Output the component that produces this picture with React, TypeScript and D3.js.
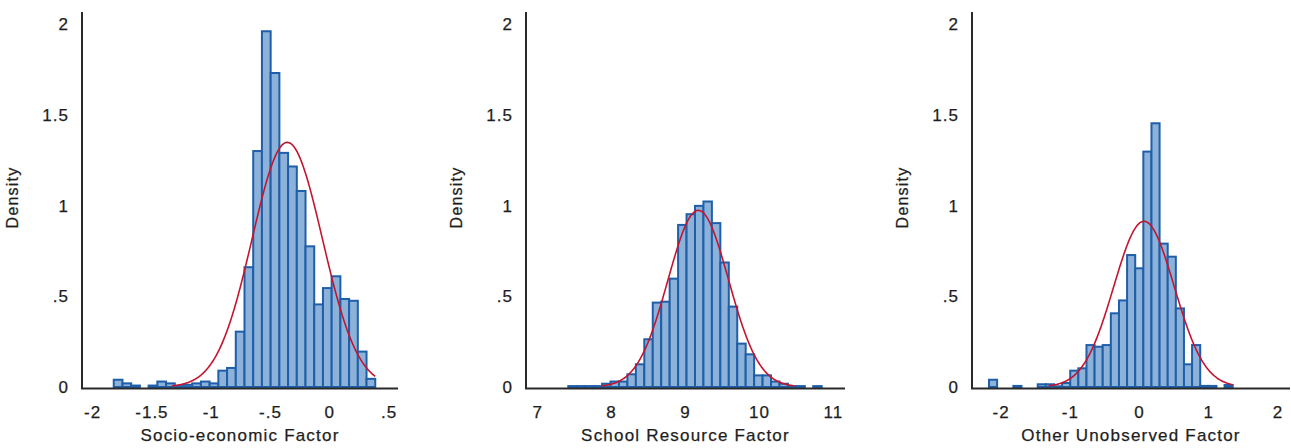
import React from 'react';
import * as d3 from 'd3';

// ---------- Data ----------
// Panel 1: Socio-economic Factor
const socioDensity = [0.04, 0.02, 0.008, 0, 0.008, 0.03, 0.02, 0.005, 0.012, 0.02, 0.03, 0.02, 0.09, 0.105, 0.305, 0.66, 1.30, 1.96, 1.73, 1.29, 1.215, 1.08, 0.775, 0.455, 0.545, 0.61, 0.485, 0.475, 0.195, 0.045];
const socioBinStart = -1.822;
const socioBinWidth = 0.0735;
const socioMean = -0.359;
const socioSD = 0.296;
const socioTicks = [-2, -1.5, -1, -0.5, 0, 0.5];
const socioTickLabels = ['-2', '-1.5', '-1', '-.5', '0', '.5'];

// Panel 2: School Resource Factor
const schoolDensity = [0.005, 0.005, 0.005, 0.005, 0.018, 0.03, 0.03, 0.07, 0.125, 0.263, 0.465, 0.47, 0.597, 0.893, 0.952, 0.998, 1.022, 0.903, 0.686, 0.443, 0.239, 0.18, 0.064, 0.064, 0.03, 0.018, 0.005, 0.005, 0, 0.005];
const schoolBinStart = 7.414;
const schoolBinWidth = 0.1143;
const schoolMean = 9.173;
const schoolSD = 0.41;
const schoolTicks = [7, 8, 9, 10, 11];
const schoolTickLabels = ['7', '8', '9', '10', '11'];

// Panel 3: Other Unobserved Factor
const otherDensity = [0.04, 0, 0, 0.006, 0, 0, 0.015, 0.015, 0.004, 0.022, 0.09, 0.103, 0.231, 0.222, 0.231, 0.406, 0.477, 0.727, 0.654, 1.297, 1.453, 0.79, 0.718, 0.433, 0.125, 0.231, 0.006, 0.006, 0, 0.011];
const otherBinStart = -2.175;
const otherBinWidth = 0.1174;
const otherMean = 0.065;
const otherSD = 0.437;
const otherTicks = [-2, -1, 0, 1, 2];
const otherTickLabels = ['-2', '-1', '0', '1', '2'];

const densityTicks = [0, 0.5, 1, 1.5, 2];
const densityTickLabels = ['0', '.5', '1', '1.5', '2'];
const yTitle = 'Density';

// ---------- Layout ----------
const W = 1291;
const H = 448;
const Y0 = 387;
const Y2 = 24;
const AXIS_TOP = 12;

const FONT = '"Liberation Sans", Arial, "Helvetica", sans-serif';
const TEXT_COLOR = '#1e1e1e';
const BAR_FILL = '#8db2da';
const BAR_STROKE = '#1f5ea9';
const CURVE_COLOR = '#c4152f';
const AXIS_COLOR = '#2a2a2a';
const CURVE_VISIBLE = 0.006;

type Panel = {
  title: string;
  density: number[];
  binStart: number;
  binWidth: number;
  mean: number;
  sd: number;
  ticks: number[];
  tickLabels: string[];
  domain: [number, number];
  range: [number, number];
};

const panels: Panel[] = [
  {
    title: 'Socio-economic Factor',
    density: socioDensity,
    binStart: socioBinStart,
    binWidth: socioBinWidth,
    mean: socioMean,
    sd: socioSD,
    ticks: socioTicks,
    tickLabels: socioTickLabels,
    domain: [-2.0897, 0.5748],
    range: [82, 398],
  },
  {
    title: 'School Resource Factor',
    density: schoolDensity,
    binStart: schoolBinStart,
    binWidth: schoolBinWidth,
    mean: schoolMean,
    sd: schoolSD,
    ticks: schoolTicks,
    tickLabels: schoolTickLabels,
    domain: [6.842, 11.158],
    range: [526, 845],
  },
  {
    title: 'Other Unobserved Factor',
    density: otherDensity,
    binStart: otherBinStart,
    binWidth: otherBinWidth,
    mean: otherMean,
    sd: otherSD,
    ticks: otherTicks,
    tickLabels: otherTickLabels,
    domain: [-2.4205, 2.175],
    range: [972, 1290],
  },
];

const y = d3.scaleLinear().domain([0, 2]).range([Y0, Y2]);

function normalPdf(v: number, m: number, s: number) {
  const z = (v - m) / s;
  return Math.exp(-0.5 * z * z) / (s * Math.sqrt(2 * Math.PI));
}

const textProps = {
  fontFamily: FONT,
  fill: TEXT_COLOR,
  stroke: TEXT_COLOR,
  strokeWidth: 0.25,
};

function PanelView({ p }: { p: Panel }) {
  const x = d3.scaleLinear().domain(p.domain).range(p.range);
  const left = p.range[0];
  const right = p.range[1];
  const binEnd = p.binStart + p.binWidth * p.density.length;
  const curvePts = d3
    .range(0, 401)
    .map((i) => {
      const v = p.binStart + ((binEnd - p.binStart) * i) / 400;
      return [v, normalPdf(v, p.mean, p.sd)] as [number, number];
    })
    .filter((d) => d[1] >= CURVE_VISIBLE);
  const line = d3
    .line<[number, number]>()
    .x((d) => x(d[0]))
    .y((d) => y(d[1]));

  return (
    <g>
      {p.density.map((d, i) => {
        if (d <= 0) return null;
        const x0 = x(p.binStart + i * p.binWidth);
        const x1 = x(p.binStart + (i + 1) * p.binWidth);
        return (
          <rect
            key={i}
            x={x0}
            y={y(d)}
            width={x1 - x0}
            height={Y0 - y(d)}
            fill={BAR_FILL}
            stroke={BAR_STROKE}
            strokeWidth={2}
          />
        );
      })}
      <path d={line(curvePts) || ''} fill="none" stroke={CURVE_COLOR} strokeWidth={1.6} />
      {/* axes */}
      <line x1={left} x2={left} y1={AXIS_TOP} y2={Y0 + 1.5} stroke={AXIS_COLOR} strokeWidth={2} />
      <line x1={left - 1} x2={right} y1={Y0 + 1.5} y2={Y0 + 1.5} stroke={AXIS_COLOR} strokeWidth={2} />
      {densityTicks.map((t, i) => (
        <text
          key={'y' + i}
          x={left - 13}
          y={y(t)}
          dy="0.36em"
          textAnchor="end"
          fontSize={17}
          letterSpacing={1}
          {...textProps}
        >
          {densityTickLabels[i]}
        </text>
      ))}
      {p.ticks.map((t, i) => (
        <text
          key={'x' + i}
          x={x(t)}
          y={418}
          textAnchor="middle"
          fontSize={17}
          letterSpacing={1}
          {...textProps}
        >
          {p.tickLabels[i]}
        </text>
      ))}
      <text
        x={(left + right) / 2}
        y={441}
        textAnchor="middle"
        fontSize={17}
        letterSpacing={1.2}
        {...textProps}
      >
        {p.title}
      </text>
      <text
        transform={`translate(${left - 64},${(AXIS_TOP + Y0) / 2 - 2}) rotate(-90)`}
        textAnchor="middle"
        fontSize={16}
        letterSpacing={1.2}
        {...textProps}
      >
        {yTitle}
      </text>
    </g>
  );
}

export default function App() {
  return (
    <svg
      width={W}
      height={H}
      viewBox={`0 0 ${W} ${H}`}
      style={{ position: 'absolute', left: 0, top: 0, display: 'block', background: '#ffffff' }}
    >
      <rect x={0} y={0} width={W} height={H} fill="#ffffff" />
      {panels.map((p, i) => (
        <PanelView key={i} p={p} />
      ))}
    </svg>
  );
}
